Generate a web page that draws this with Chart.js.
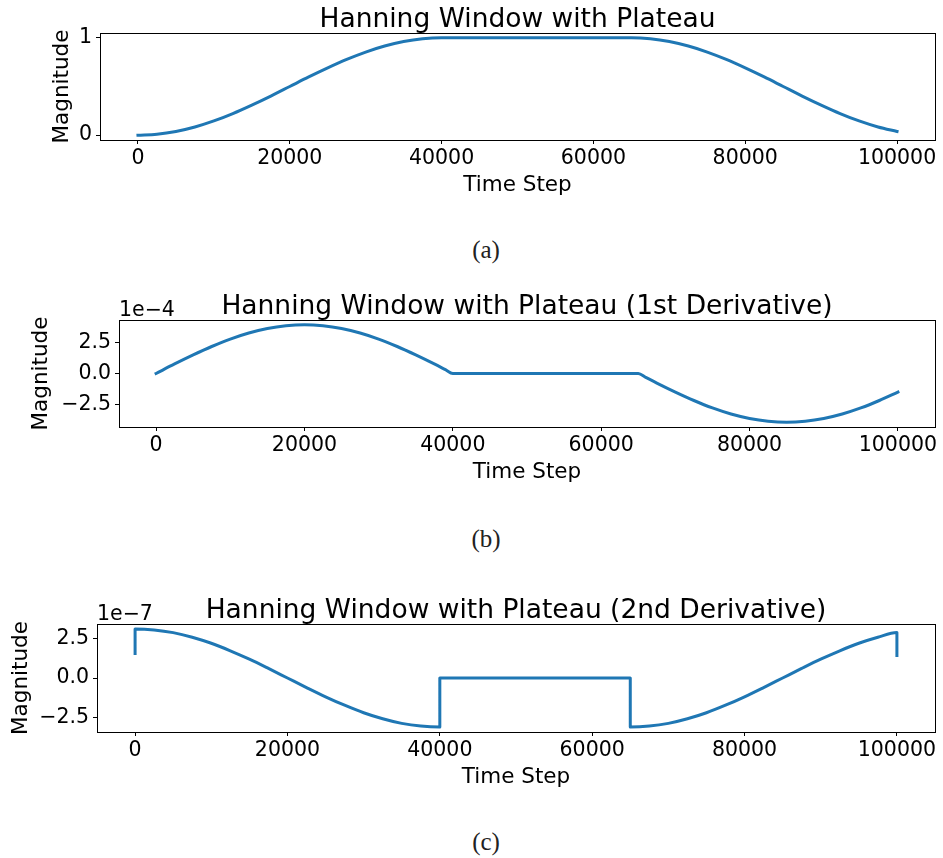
<!DOCTYPE html>
<html>
<head>
<meta charset="utf-8">
<title>Hanning Window with Plateau</title>
<script src="https://cdn.jsdelivr.net/npm/chart.js@4.4.0/dist/chart.umd.min.js"></script>
<style>
  body { margin: 0; background: #fff; }
  #page { position: relative; width: 943px; height: 858px; }
  canvas { position: absolute; left: 0; }
  .caption {
    position: absolute; left: 0; width: 972px; text-align: center;
    font-family: 'Liberation Serif', serif; font-size: 25px; line-height: 25px; color: #222;
  }
</style>
</head>
<body>
<div id="page">
  <canvas id="chart_a" width="943" height="210" style="top:0px"></canvas>
  <div class="caption" style="top:237px">(a)</div>
  <canvas id="chart_b" width="943" height="212" style="top:285px"></canvas>
  <div class="caption" style="top:526px">(b)</div>
  <canvas id="chart_c" width="943" height="212" style="top:590px"></canvas>
  <div class="caption" style="top:829px">(c)</div>
</div>
<script>
// time steps for the window
var steps = [0, 2500, 5000, 7500, 10000, 12500, 15000, 17500, 20000, 22500, 25000,
    27500, 30000, 32500, 35000, 37500, 40000, 42500, 45000, 47500, 50000, 52500,
    55000, 57500, 60000, 62500, 65000, 67500, 70000, 72500, 75000, 77500, 80000,
    82500, 85000, 87500, 90000, 92500, 95000, 97500, 100000];

var windowMag = [0, 0.010, 0.038, 0.084, 0.146, 0.222, 0.309, 0.402, 0.500, 0.598, 0.691,
    0.778, 0.854, 0.916, 0.962, 0.990, 1, 1, 1, 1, 1, 1,
    1, 1, 1, 1, 1, 0.990, 0.962, 0.916, 0.854, 0.778, 0.691,
    0.598, 0.500, 0.402, 0.309, 0.222, 0.146, 0.084, 0.038];

// first derivative has kinks at 40000 and 65000, so sample tighter there
var stepsFirst = [0, 2500, 5000, 7500, 10000, 12500, 15000, 17500, 20000, 22500, 25000,
    27500, 30000, 32500, 35000, 37500, 39000, 40000, 42500, 45000, 47500, 50000, 52500,
    55000, 57500, 60000, 62500, 65000, 66000, 67500, 70000, 72500, 75000, 77500, 80000,
    82500, 85000, 87500, 90000, 92500, 95000, 97500, 100000];

var firstDeriv = [0, 0.77e-4, 1.50e-4, 2.18e-4, 2.78e-4, 3.27e-4, 3.63e-4, 3.85e-4, 3.93e-4, 3.85e-4, 3.63e-4,
    3.27e-4, 2.78e-4, 2.18e-4, 1.50e-4, 0.77e-4, 0.31e-4, 0, 0, 0, 0, 0, 0,
    0, 0, 0, 0, 0, -0.31e-4, -0.77e-4, -1.50e-4, -2.18e-4, -2.78e-4, -3.27e-4, -3.63e-4,
    -3.85e-4, -3.93e-4, -3.85e-4, -3.63e-4, -3.27e-4, -2.78e-4, -2.18e-4, -1.50e-4];

// the second derivative jumps, so the jump steps appear twice
var stepsJump = [0, 0, 2500, 5000, 7500, 10000, 12500, 15000, 17500, 20000, 22500, 25000,
    27500, 30000, 32500, 35000, 37500, 40000, 40000, 42500, 45000, 47500, 50000, 52500,
    55000, 57500, 60000, 62500, 65000, 65000, 67500, 70000, 72500, 75000, 77500, 80000,
    82500, 85000, 87500, 90000, 92500, 95000, 97500, 100000, 100000];

var secondDeriv = [1.54e-7, 3.08e-7, 3.02e-7, 2.85e-7, 2.56e-7, 2.18e-7, 1.71e-7, 1.18e-7, 0.60e-7, 0, -0.60e-7, -1.18e-7,
    -1.71e-7, -2.18e-7, -2.56e-7, -2.85e-7, -3.02e-7, -3.08e-7, 0, 0, 0, 0, 0, 0,
    0, 0, 0, 0, 0, -3.08e-7, -3.02e-7, -2.85e-7, -2.56e-7, -2.18e-7, -1.71e-7, -1.18e-7,
    -0.60e-7, 0, 0.60e-7, 1.18e-7, 1.71e-7, 2.18e-7, 2.56e-7, 2.85e-7, 1.42e-7];

var xTicks = [0, 20000, 40000, 60000, 80000, 100000];
var yTicksA = [0, 1];
var yTicksB = [-2.5e-4, 0, 2.5e-4];
var yTicksC = [-2.5e-7, 0, 2.5e-7];

Chart.defaults.font.family = "'DejaVu Sans'";
Chart.defaults.color = '#000';

// closed frame, title and exponent text, drawn matplotlib style
var panelText = {
    id: 'panelText',
    afterDraw: function (chart, args, opts) {
        var ctx = chart.ctx, area = chart.chartArea;
        var l = Math.round(area.left) + 0.5, t = Math.round(area.top) + 0.5;
        var r = Math.round(area.right) + 0.5, b = Math.round(area.bottom) + 0.5;
        ctx.save();
        ctx.strokeStyle = '#000';
        ctx.lineWidth = 1;
        ctx.strokeRect(l, t, r - l, b - t);
        ctx.fillStyle = '#000';
        ctx.textBaseline = 'alphabetic';
        ctx.font = "26.5px 'DejaVu Sans'";
        ctx.textAlign = 'center';
        ctx.fillText(opts.title, (area.left + area.right) / 2, area.top - 6);
        if (opts.exponent) {
            ctx.font = "20.5px 'DejaVu Sans'";
            ctx.textAlign = 'left';
            ctx.fillText(opts.exponent, area.left, area.top - 4);
        }
        ctx.restore();
    }
};

function minusSign(s) {
    return s.replace('-', '\u2212');
}

function makePanel(id, xs, ys, cfg) {
    var points = xs.map(function (x, i) { return { x: x, y: ys[i] }; });
    return new Chart(document.getElementById(id), {
        type: 'line',
        data: {
            datasets: [{
                data: points,
                borderColor: '#1f77b4',
                borderWidth: 3,
                borderCapStyle: 'square',
                borderJoinStyle: 'round',
                pointRadius: 0,
                fill: false,
                cubicInterpolationMode: 'monotone'
            }]
        },
        options: {
            responsive: false,
            animation: false,
            events: [],
            layout: { padding: { left: cfg.padLeft, right: 8, top: cfg.padTop, bottom: 10 } },
            plugins: {
                legend: { display: false },
                tooltip: { enabled: false },
                panelText: { title: cfg.title, exponent: cfg.exponent }
            },
            scales: {
                x: {
                    type: 'linear',
                    min: -5000,
                    max: 105000,
                    afterBuildTicks: function (s) {
                        s.ticks = xTicks.map(function (v) { return { value: v }; });
                    },
                    afterFit: function (s) { s.height = 60; },
                    grid: { drawOnChartArea: false, tickLength: 4, color: '#000' },
                    border: { display: false },
                    ticks: {
                        font: { size: 20.5 },
                        padding: 2,
                        maxRotation: 0,
                        autoSkip: false,
                        callback: function (v) { return String(v); }
                    },
                    title: {
                        display: true,
                        text: 'Time Step',
                        font: { size: 21.5 },
                        padding: { top: 0, bottom: 1.6 }
                    }
                },
                y: {
                    type: 'linear',
                    min: cfg.yMin,
                    max: cfg.yMax,
                    afterBuildTicks: function (s) {
                        s.ticks = cfg.yTicks.map(function (v) { return { value: v }; });
                    },
                    afterFit: function (s) { s.width = cfg.yWidth; },
                    grid: { drawOnChartArea: false, tickLength: 4, color: '#000' },
                    border: { display: false },
                    ticks: {
                        font: { size: 20.5 },
                        padding: 4,
                        autoSkip: false,
                        callback: cfg.tickFormat
                    },
                    title: {
                        display: true,
                        text: 'Magnitude',
                        font: { size: 21.5 },
                        padding: 0
                    }
                }
            }
        },
        plugins: [panelText]
    });
}

makePanel('chart_a', steps, windowMag, {
    title: 'Hanning Window with Plateau',
    padLeft: 50, yWidth: 50, padTop: 33,
    yMin: -0.05, yMax: 1.05, yTicks: yTicksA,
    tickFormat: function (v) { return String(v); }
});

makePanel('chart_b', stepsFirst, firstDeriv, {
    title: 'Hanning Window with Plateau (1st Derivative)',
    exponent: '1e\u22124',
    padLeft: 29, yWidth: 90, padTop: 35,
    yMin: -4.32e-4, yMax: 4.32e-4, yTicks: yTicksB,
    tickFormat: function (v) { return minusSign((v / 1e-4).toFixed(1)); }
});

makePanel('chart_c', stepsJump, secondDeriv, {
    title: 'Hanning Window with Plateau (2nd Derivative)',
    exponent: '1e\u22127',
    padLeft: 9, yWidth: 88, padTop: 34,
    yMin: -3.39e-7, yMax: 3.39e-7, yTicks: yTicksC,
    tickFormat: function (v) { return minusSign((v / 1e-7).toFixed(1)); }
});
</script>
</body>
</html>
